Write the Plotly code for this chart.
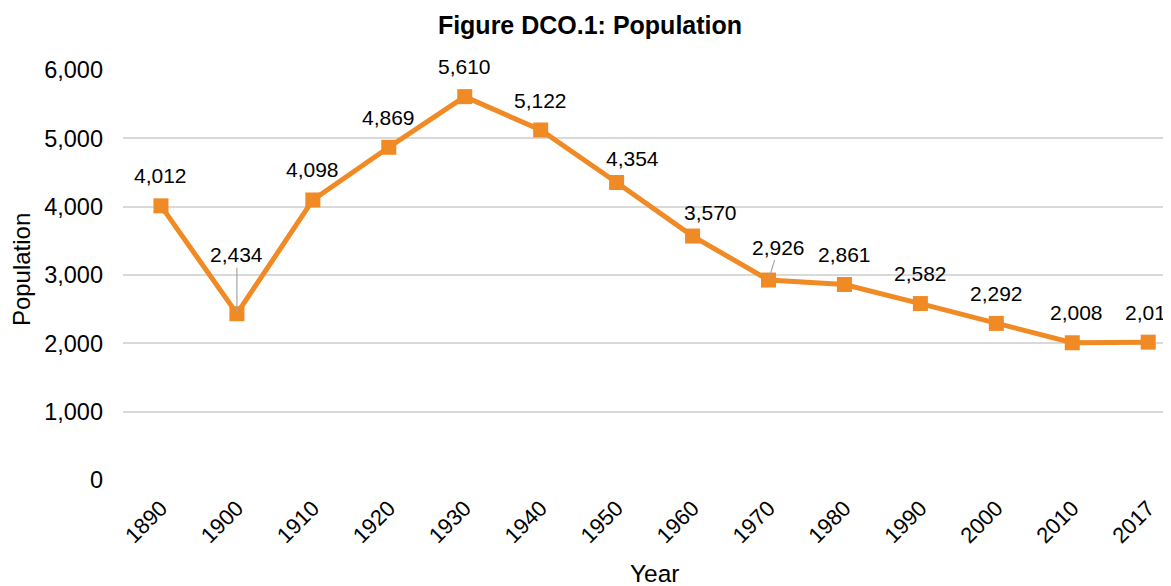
import plotly.graph_objects as go

years = ["1890", "1900", "1910", "1920", "1930", "1940", "1950", "1960",
         "1970", "1980", "1990", "2000", "2010", "2017"]
population = [4012, 2434, 4098, 4869, 5610, 5122, 4354, 3570,
              2926, 2861, 2582, 2292, 2008, 2017]
y_ticks = [0, 1000, 2000, 3000, 4000, 5000, 6000]

ORANGE = "#F08A24"
FONT = "Liberation Sans, Arial, sans-serif"

# label placement (pixels): (dx, dy above point, leader line?)
label_pos = {1: (0, 59, True), 6: (16, 24, False), 7: (18, 24, False),
             8: (10, 33, True), 12: (4, 30, False), 13: (3, 30, False)}

fig = go.Figure()
fig.add_trace(go.Scatter(
    x=list(range(len(years))), y=population, mode="lines+markers",
    line=dict(color=ORANGE, width=5),
    marker=dict(symbol="square", size=15, color=ORANGE),
    cliponaxis=False, showlegend=False,
))

for i, v in enumerate(population):
    label = f"{v:,}"
    dx, dy, lead = label_pos.get(i, (0, 30, False))
    if lead:
        fig.add_annotation(x=i, y=v, text=label, showarrow=True,
                           ax=dx, ay=-dy, arrowhead=0, arrowwidth=1.2,
                           arrowcolor="#a6a6a6", standoff=2,
                           font=dict(family=FONT, size=21, color="#000"))
    else:
        fig.add_annotation(x=i, y=v, text=label, showarrow=False,
                           xshift=dx, yshift=dy,
                           font=dict(family=FONT, size=21, color="#000"))

# axis titles
fig.add_annotation(xref="paper", yref="paper", x=0.508, y=-0.229, text="Year",
                   showarrow=False, xanchor="center", yanchor="middle",
                   font=dict(family=FONT, size=24.5, color="#000"))
fig.add_annotation(xref="paper", yref="paper", x=-0.0973, y=0.512, text="Population",
                   showarrow=False, textangle=-90, xanchor="center", yanchor="middle",
                   font=dict(family=FONT, size=24, color="#000"))

fig.update_layout(
    width=1163, height=578,
    margin=dict(l=115, r=0, t=62, b=106),
    paper_bgcolor="white", plot_bgcolor="white",
    font=dict(family=FONT, color="#000"),
    title=dict(text="<b>Figure DCO.1: Population</b>", xref="container", x=0.5004,
               xanchor="center", yref="container", y=0.9706, yanchor="middle",
               font=dict(family=FONT, size=25, color="#000")),
    xaxis=dict(range=[-0.5, 13.30], tickmode="array",
               tickvals=list(range(len(years))), ticktext=years,
               tickangle=-45, showgrid=False, zeroline=False, showline=False,
               ticks="", ticklabelstandoff=10,
               tickfont=dict(family=FONT, size=22, color="#000")),
    yaxis=dict(range=[0, 6000], tickmode="array", tickvals=y_ticks,
               tickformat=",", showgrid=True, gridcolor="#d9d9d9", gridwidth=2,
               zeroline=False, showline=False, ticks="", ticklabelstandoff=19,
               tickfont=dict(family=FONT, size=23.5, color="#000")),
)

fig.write_html("out.html")
